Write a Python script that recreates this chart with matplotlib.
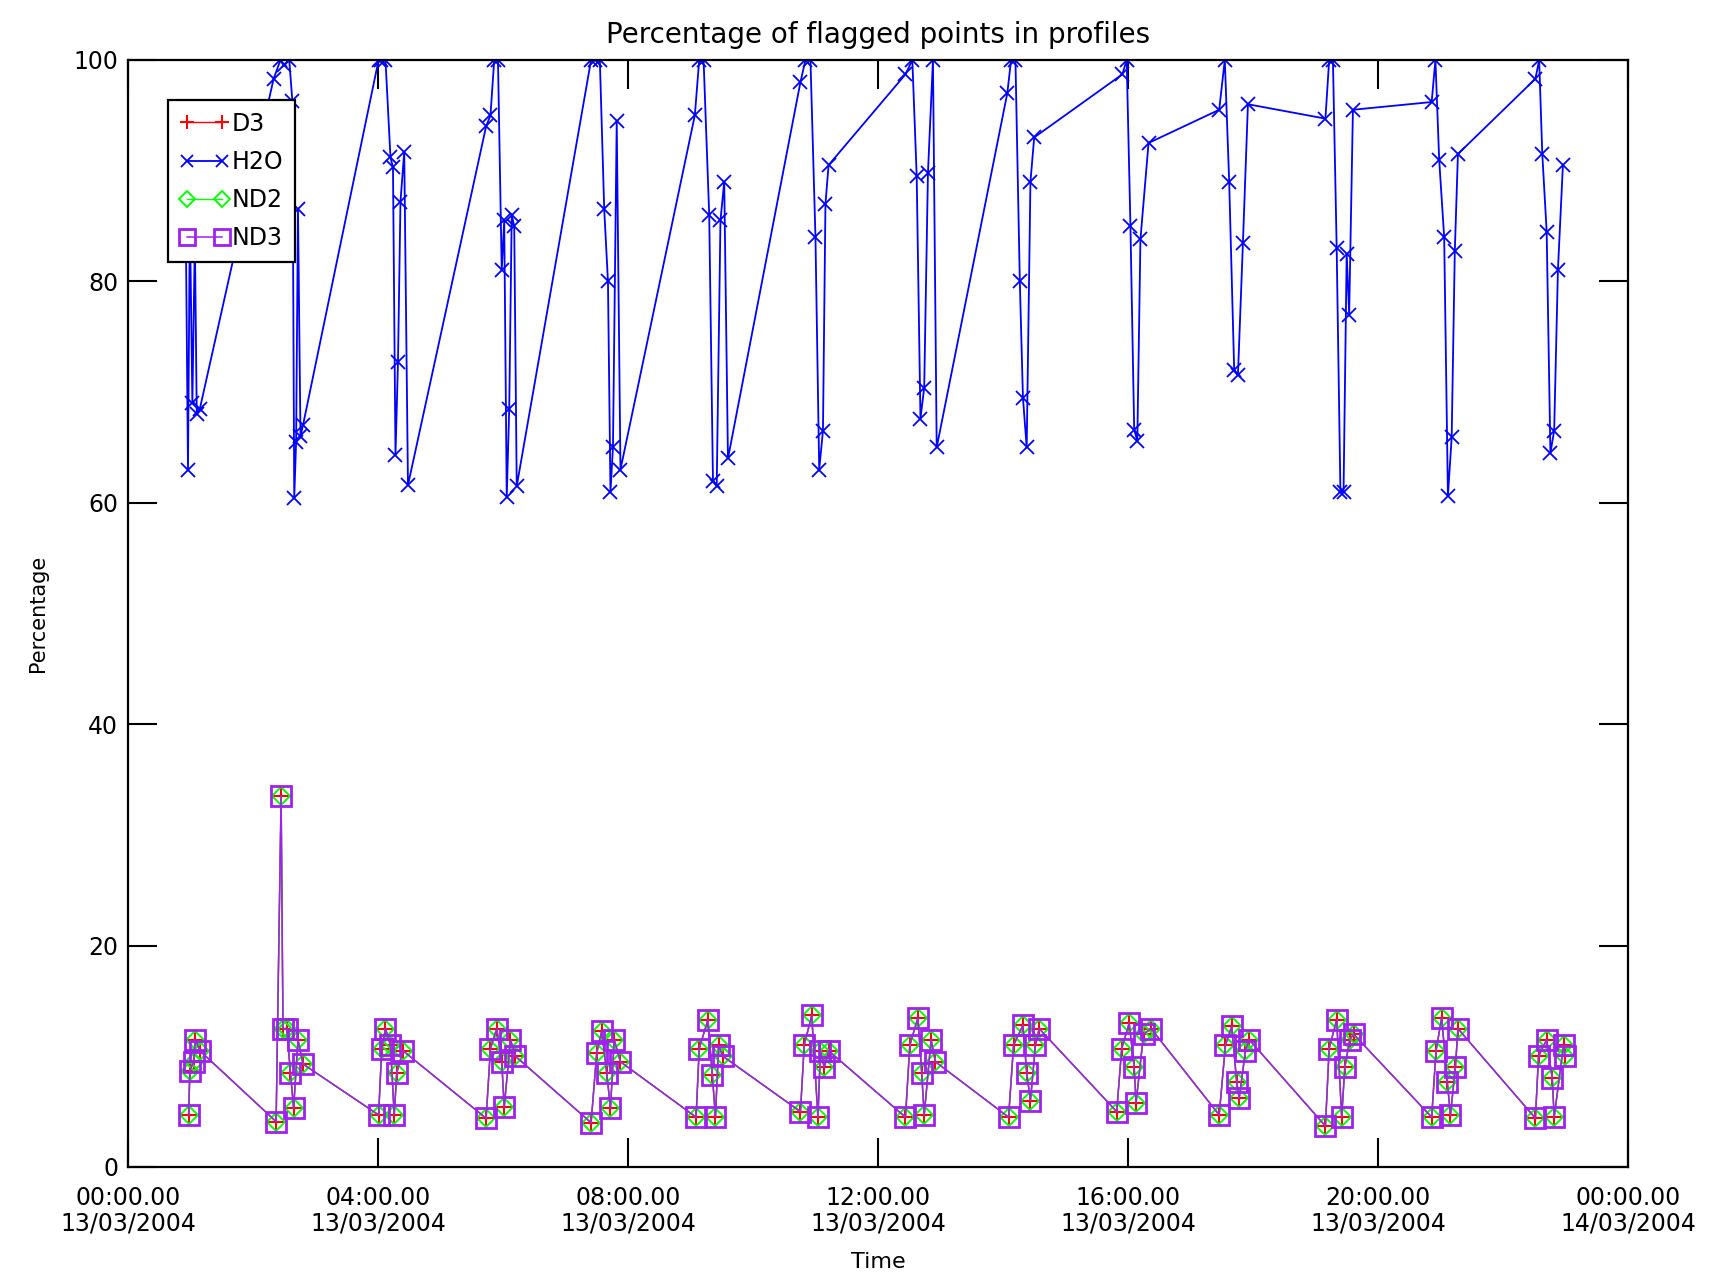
import matplotlib
matplotlib.use('Agg')
import matplotlib.pyplot as plt

plt.rcParams['font.family'] = ['DejaVu Sans']

# time of each profile in hours after 00:00 13/03/2004
h2o_hours = [0.92, 0.96, 0.99, 1.03, 1.07, 1.10, 1.15,
             2.33, 2.44, 2.50, 2.58, 2.63, 2.66, 2.69, 2.72, 2.76, 2.80,
             4.01, 4.05, 4.12, 4.20, 4.24, 4.28, 4.32, 4.36, 4.42, 4.48,
             5.73, 5.80, 5.86, 5.92, 5.98, 6.02, 6.06, 6.10, 6.14, 6.18, 6.22,
             7.41, 7.47, 7.55, 7.62, 7.68, 7.72, 7.76, 7.82, 7.88,
             9.07, 9.14, 9.21, 9.30, 9.36, 9.42, 9.48, 9.54, 9.60,
             10.76, 10.84, 10.92, 11.00, 11.06, 11.12, 11.16, 11.21,
             12.44, 12.55, 12.62, 12.68, 12.74, 12.80, 12.88, 12.94,
             14.07, 14.13, 14.20, 14.27, 14.32, 14.38, 14.44, 14.50,
             15.91, 15.98, 16.04, 16.10, 16.15, 16.20, 16.33,
             17.46, 17.55, 17.62, 17.70, 17.76, 17.84, 17.92,
             19.16, 19.22, 19.28, 19.34, 19.40, 19.45, 19.50, 19.54, 19.60,
             20.86, 20.92, 20.98, 21.06, 21.12, 21.18, 21.23, 21.28,
             22.52, 22.58, 22.63, 22.70, 22.76, 22.82, 22.88, 22.96]
h2o_pct = [88, 63, 86, 69, 84, 68, 68.5,
           98.3, 100, 99.5, 100, 96.3, 60.4, 65.5, 86.5, 66, 67,
           100, 100, 100, 91.2, 90.3, 64.3, 72.7, 87.2, 91.7, 61.6,
           94, 95, 100, 100, 81, 85.5, 60.5, 68.5, 86, 85, 61.5,
           100, 100, 100, 86.5, 80, 61, 65, 94.5, 63,
           95, 100, 100, 86, 62, 61.5, 85.5, 89, 64,
           98, 100, 100, 84, 63, 66.5, 87, 90.5,
           98.7, 100, 89.5, 67.6, 70.4, 89.8, 100, 65,
           97, 100, 100, 80, 69.5, 65, 89, 93,
           98.7, 100, 85, 66.6, 65.6, 83.8, 92.5,
           95.5, 100, 89, 72, 71.5, 83.5, 96,
           94.7, 100, 100, 83, 61, 61, 82.5, 77, 95.5,
           96.2, 100, 91, 84, 60.6, 65.9, 82.7, 91.5,
           98.3, 100, 91.5, 84.5, 64.5, 66.5, 81, 90.5]

nd_hours = [0.97, 0.99, 1.05, 1.08, 1.15,
            2.37, 2.45, 2.48, 2.54, 2.60, 2.65, 2.72, 2.80,
            4.01, 4.06, 4.12, 4.20, 4.26, 4.30, 4.40,
            5.73, 5.80, 5.90, 5.98, 6.02, 6.12, 6.20,
            7.41, 7.50, 7.58, 7.66, 7.72, 7.78, 7.88,
            9.09, 9.14, 9.28, 9.35, 9.40, 9.45, 9.52,
            10.76, 10.82, 10.94, 11.04, 11.08, 11.14, 11.21,
            12.44, 12.51, 12.64, 12.70, 12.74, 12.85, 12.92,
            14.09, 14.17, 14.32, 14.38, 14.44, 14.52, 14.58,
            15.82, 15.90, 16.02, 16.10, 16.13, 16.25, 16.37,
            17.46, 17.56, 17.66, 17.74, 17.78, 17.88, 17.94,
            19.16, 19.22, 19.34, 19.42, 19.47, 19.55, 19.61,
            20.86, 20.93, 21.02, 21.11, 21.16, 21.24, 21.28,
            22.52, 22.57, 22.70, 22.79, 22.82, 22.97, 23.00]
nd3_pct = [4.7, 8.7, 9.5, 11.5, 10.5,
           4.1, 33.5, 12.5, 12.5, 8.5, 5.3, 11.5, 9.3,
           4.7, 10.7, 12.5, 11, 4.7, 8.5, 10.5,
           4.4, 10.7, 12.5, 9.5, 5.4, 11.5, 10,
           4, 10.3, 12.3, 8.5, 5.3, 11.5, 9.5,
           4.5, 10.7, 13.3, 8.3, 4.5, 11, 10,
           5, 11, 13.7, 4.5, 10.5, 9, 10.5,
           4.5, 11, 13.5, 8.5, 4.7, 11.5, 9.5,
           4.5, 11, 12.8, 8.5, 6, 11, 12.5,
           5, 10.7, 13, 9, 5.8, 12, 12.5,
           4.7, 11, 12.7, 7.7, 6.2, 10.5, 11.5,
           3.7, 10.7, 13.3, 4.5, 9, 11.5, 12,
           4.5, 10.5, 13.5, 7.7, 4.7, 9, 12.5,
           4.4, 10, 11.5, 8, 4.5, 11, 10]
# D3 and ND2 are identical to ND3 in this plot
d3_pct = list(nd3_pct)
nd2_pct = list(nd3_pct)

x_ticks = [0, 4, 8, 12, 16, 20, 24]
x_labels = ['00:00.00\n13/03/2004', '04:00.00\n13/03/2004', '08:00.00\n13/03/2004',
            '12:00.00\n13/03/2004', '16:00.00\n13/03/2004', '20:00.00\n13/03/2004',
            '00:00.00\n14/03/2004']
y_ticks = [0, 20, 40, 60, 80, 100]

fig = plt.figure(figsize=(17.32, 12.81), dpi=100)
ax = fig.add_axes([0.0739, 0.089, 0.866, 0.8642])

ax.plot(nd_hours, d3_pct, color='#ff0000', marker='+', ms=12, mew=1.5, lw=1.0, label='D3')
ax.plot(h2o_hours, h2o_pct, color='#0000ff', marker='x', ms=10, mew=1.3, lw=1.3, label='H2O')
ax.plot(nd_hours, nd2_pct, color='#00ff00', marker='D', ms=9, mew=1.4, mfc='none', lw=1.0, label='ND2')
ax.plot(nd_hours, nd3_pct, color='#a020f0', marker='s', ms=14, mew=2.0, mfc='none', lw=1.1, label='ND3')

ax.set_xlim(0, 24)
ax.set_ylim(0, 100)
ax.set_xticks(x_ticks)
ax.set_xticklabels(x_labels, linespacing=1.05)
ax.set_yticks(y_ticks)
ax.tick_params(direction='in', length=21, width=1.5, top=True, right=True, labelsize=17)
ax.tick_params(axis='x', pad=14)
ax.tick_params(axis='y', pad=7)
for sp in ax.spines.values():
    sp.set_linewidth(1.6)

ax.set_title('Percentage of flagged points in profiles', fontsize=20, pad=12)
ax.set_xlabel('Time', fontsize=16, labelpad=12)
ax.set_ylabel('Percentage', fontsize=15, labelpad=18)

leg = ax.legend(loc='upper left', bbox_to_anchor=(0.0267, 0.964), borderaxespad=0,
                numpoints=2, fontsize=17, handlelength=2.1, handletextpad=0.1,
                labelspacing=0.6, borderpad=0.5, markerscale=0.85, fancybox=False,
                framealpha=1, edgecolor='black')
leg.get_frame().set_linewidth(1.6)

fig.savefig('out.png', dpi=100)
